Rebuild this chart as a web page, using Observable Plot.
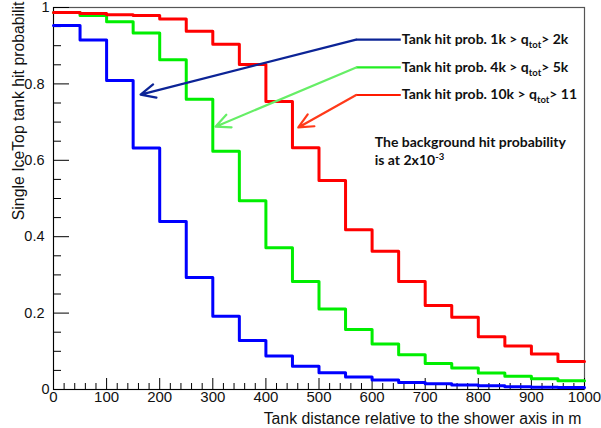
<!DOCTYPE html>
<html><head><meta charset="utf-8">
<script src="https://cdn.jsdelivr.net/npm/d3@7"></script>
<script src="https://cdn.jsdelivr.net/npm/@observablehq/plot@0.6"></script>
<style>body{margin:0;background:#fff}</style>
</head><body><div id="chart"></div>
<script>
// ---- data ----
const binStarts = [0,50,100,150,200,250,300,350,400,450,500,550,600,650,700,750,800,850,900,950];
const binEnd = 1000;
const blueProb  = [0.953,0.915,0.809,0.632,0.440,0.293,0.192,0.128,0.088,0.061,0.044,0.033,0.025,0.018,0.015,0.012,0.010,0.007,0.006,0.005];
const greenProb = [0.987,0.979,0.963,0.933,0.863,0.760,0.624,0.494,0.371,0.283,0.211,0.157,0.119,0.091,0.068,0.056,0.043,0.035,0.028,0.023];
const redProb   = [0.987,0.984,0.981,0.979,0.970,0.938,0.904,0.851,0.754,0.633,0.547,0.418,0.362,0.283,0.220,0.189,0.138,0.114,0.093,0.073];

const xMajorTicks = [0,100,200,300,400,500,600,700,800,900,1000];
const xMinorTicks = [20,40,60,80,120,140,160,180,220,240,260,280,320,340,360,380,420,440,460,480,520,540,560,580,620,640,660,680,720,740,760,780,820,840,860,880,920,940,960,980];
const yMajorTicks = [0,0.2,0.4,0.6,0.8,1];
const yMinorTicks = [0.05,0.1,0.15,0.25,0.3,0.35,0.45,0.5,0.55,0.65,0.7,0.75,0.85,0.9,0.95];
const yLabelsDecimal = [0.2,0.4,0.6,0.8];
const yLabelsInteger = [0,1];

const legendLabels = ["Tank hit prob. 1k > q_{tot}> 2k","Tank hit prob. 4k > q_{tot}> 5k","Tank hit prob. 10k > q_{tot}> 11"];
const legendY = [0.916,0.843,0.771];
const legendLineX = [570,654];
const arrowTipX = [164,305,461];
const arrowTipY = [0.772,0.688,0.686];
const noteLines = ["The background hit probability","is at 2x10^{-3}"];
const noteX = 605;
const noteY = [0.647,0.599];

const xTitle = "Tank distance relative to the shower axis in m";
const yTitle = "Single IceTop tank hit probabilit";

// ---- build ----
const histColors = ["#0000ff","#00ee00","#ff0000"];
const legendColors = ["#0c2496","#22ee22","#ff1a00"];
const arrowColors = ["#0c2496","#66ee66","#ff3a1a"];
function steps(vals){
  const r = binStarts.map((x,i)=>({x, y: vals[i]}));
  r.push({x: binEnd, y: vals[vals.length-1]});
  return r;
}
const W = 601, H = 428, mL = 53, mR = 17, mT = 7, mB = 39;
const innerW = W - mL - mR, innerH = H - mT - mB;
const legendRows = legendLabels.map((t,i)=>({t, y: legendY[i], c: legendColors[i], a: arrowColors[i], tx: arrowTipX[i], ty: arrowTipY[i]}));
const annFont = "Lato, 'Open Sans', sans-serif";

const plot = Plot.plot({
  width: W, height: H,
  marginLeft: mL, marginRight: mR, marginTop: mT, marginBottom: mB,
  style: {fontFamily: "'Liberation Sans', Arial, sans-serif", fontSize: "14px", background: "#fff", color: "#111"},
  x: {domain: [0, 1000]},
  y: {domain: [0, 1]},
  marks: [
    Plot.frame({stroke: "#555", strokeWidth: 1.2}),
    Plot.ruleY([0], {stroke: "#000"}),
    Plot.ruleX([0], {stroke: "#000"}),
    Plot.ruleX(xMajorTicks, {x: d=>d, insetTop: innerH - 11, stroke: "#000"}),
    Plot.ruleX(xMinorTicks, {x: d=>d, insetTop: innerH - 6, stroke: "#000"}),
    Plot.ruleY(yMajorTicks, {y: d=>d, insetRight: innerW - 16, stroke: "#000"}),
    Plot.ruleY(yMinorTicks, {y: d=>d, insetRight: innerW - 8, stroke: "#000"}),
    Plot.axisX(xMajorTicks, {tickSize: 0, tickPadding: 2, label: null, tickFormat: d=>String(d), fontSize: 15}),
    Plot.axisY(yLabelsDecimal, {tickSize: 0, tickPadding: 9, label: null, tickFormat: d=>String(d), fontSize: 14.5}),
    Plot.axisY(yLabelsInteger, {tickSize: 0, tickPadding: 4, label: null, tickFormat: d=>String(d), fontSize: 14.5}),
    Plot.line(steps(blueProb), {x: "x", y: "y", curve: "step-after", stroke: histColors[0], strokeWidth: 3}),
    Plot.line(steps(greenProb), {x: "x", y: "y", curve: "step-after", stroke: histColors[1], strokeWidth: 3}),
    Plot.line(steps(redProb), {x: "x", y: "y", curve: "step-after", stroke: histColors[2], strokeWidth: 3}),
    Plot.link(legendRows, {x1: legendLineX[0], x2: legendLineX[1], y1: "y", y2: "y", stroke: "c", strokeWidth: 2.2}),
    Plot.arrow(legendRows, {x1: legendLineX[0], y1: "y", x2: "tx", y2: "ty", stroke: "a", strokeWidth: 2.2, headLength: 11, headAngle: 50}),
    Plot.text(legendRows, {x: 656, y: "y", text: "t", textAnchor: "start", lineAnchor: "middle", fontFamily: annFont, fontWeight: "bold", fontSize: 14, fill: "#111"}),
    Plot.text(noteLines, {x: noteX, y: (d,i)=>noteY[i], text: d=>d, textAnchor: "start", lineAnchor: "middle", fontFamily: annFont, fontWeight: "bold", fontSize: 14, fill: "#111"}),
    Plot.text([xTitle], {frameAnchor: "bottom-right", text: d=>d, textAnchor: "end", lineAnchor: "bottom", dx: -3, dy: 34, fontSize: 15.8, fill: "#111"}),
    Plot.text([yTitle], {frameAnchor: "top-left", text: d=>d, rotate: -90, textAnchor: "end", lineAnchor: "bottom", dx: -30, dy: -6, fontSize: 15.8, fill: "#111"})
  ]
});

// sub/superscripts
plot.querySelectorAll("text").forEach(t=>{
  const s = t.textContent;
  if (!/[_^]\{/.test(s)) return;
  while (t.firstChild) t.removeChild(t.firstChild);
  const re = /([_^])\{([^}]*)\}/g;
  let last = 0, m, pendingReset = 0;
  const ns = "http://www.w3.org/2000/svg";
  const add = (txt, dy, small) => {
    const sp = document.createElementNS(ns, "tspan");
    sp.textContent = txt;
    if (dy) sp.setAttribute("dy", dy);
    if (small) sp.setAttribute("font-size", "68%");
    t.appendChild(sp);
  };
  while ((m = re.exec(s))) {
    if (m.index > last) add(s.slice(last, m.index), pendingReset ? pendingReset + "px" : null, false), pendingReset = 0;
    const sh = m[1] === "_" ? 4 : -5.5;
    add(m[2], (sh + pendingReset) + "px", true);
    pendingReset = -sh;
    last = re.lastIndex;
  }
  if (last < s.length) add(s.slice(last), pendingReset ? pendingReset + "px" : null, false);
});
document.getElementById("chart").appendChild(plot);
</script>
</body></html>
